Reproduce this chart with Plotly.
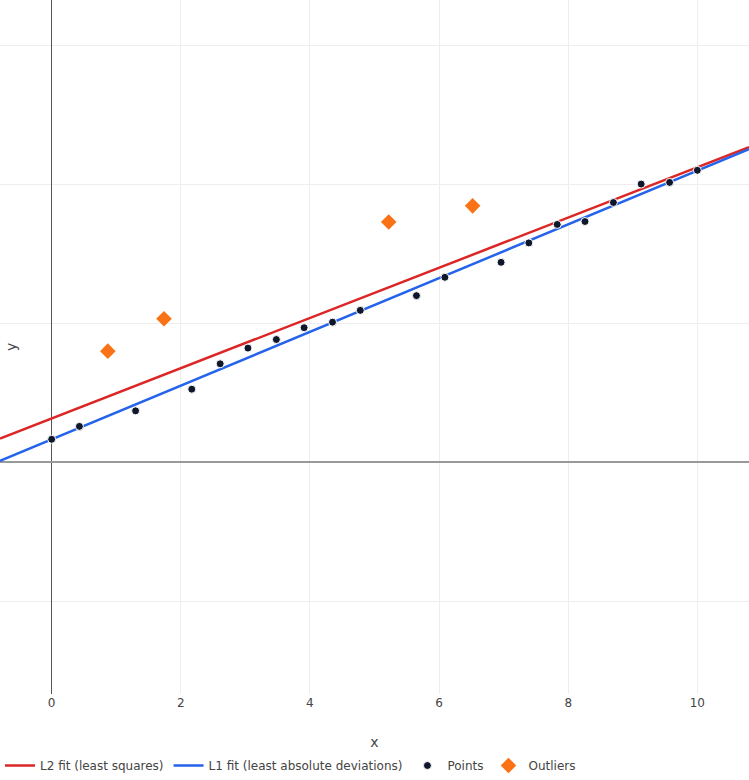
import plotly.graph_objects as go

# data
pts_x = [0, 0.43, 1.30, 2.17, 2.61, 3.04, 3.48, 3.91, 4.35, 4.78,
         5.65, 6.09, 6.96, 7.39, 7.83, 8.26, 8.70, 9.13, 9.57, 10.0]
pts_y = [1.65, 2.58, 3.70, 5.26, 7.09, 8.22, 8.84, 9.69, 10.09, 10.94,
         12.00, 13.32, 14.40, 15.80, 17.13, 17.34, 18.71, 20.04, 20.16, 21.03]

out_x = [0.87, 1.74, 5.22, 6.52]
out_y = [8.00, 10.34, 17.31, 18.47]

fit_x = [-0.8, 10.8]
l2_y = [1.71, 22.69]
l1_y = [0.10, 22.55]

font_family = "Verdana, DejaVu Sans, sans-serif"

fig = go.Figure()
fig.add_trace(go.Scatter(x=fit_x, y=l2_y, mode="lines", name="L2 fit (least squares)",
                         line=dict(color="#dc2626", width=2.5)))
fig.add_trace(go.Scatter(x=fit_x, y=l1_y, mode="lines", name="L1 fit (least absolute deviations)",
                         line=dict(color="#2563eb", width=2.5)))
fig.add_trace(go.Scatter(x=pts_x, y=pts_y, mode="markers", name="Points",
                         marker=dict(color="#0f172a", size=8, line=dict(color="white", width=1))))
fig.add_trace(go.Scatter(x=out_x, y=out_y, mode="markers", name="Outliers",
                         marker=dict(color="#f97316", size=12, symbol="diamond")))

fig.update_layout(
    template="plotly_white",
    width=749, height=780,
    margin=dict(l=0, r=0, t=0, b=86),
    font=dict(family=font_family, size=12, color="#444"),
    xaxis=dict(range=[-0.8, 10.8], dtick=2, title=dict(text="x", standoff=28),
               zeroline=True, zerolinecolor="#555", zerolinewidth=1,
               gridcolor="#eee"),
    yaxis=dict(range=[-16.7, 33.3], dtick=10, showticklabels=False,
               zeroline=True, zerolinecolor="#999", zerolinewidth=2,
               gridcolor="#eee"),
    legend=dict(orientation="h", x=0, xanchor="left", y=0, yref="container",
                yanchor="bottom", itemwidth=30),
    annotations=[dict(text="y", xref="paper", yref="paper", x=11 / 749, y=0.5,
                      xanchor="center", showarrow=False, textangle=-90,
                      font=dict(size=14))],
)

# page body margin would push the plot 8px off the window corner
fig.write_html("out.html", config={"displayModeBar": False},
               post_script="document.body.style.margin='0px';")
